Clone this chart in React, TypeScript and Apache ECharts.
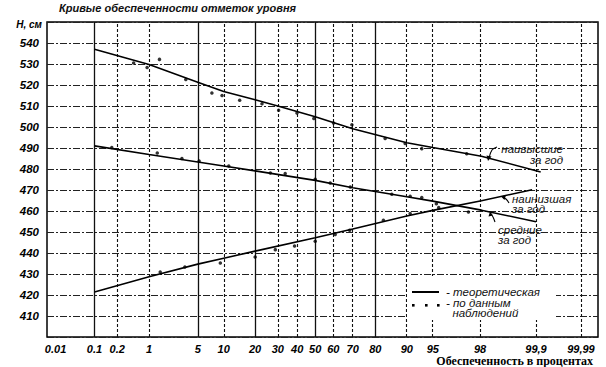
import React, { useEffect, useRef } from 'react';
import * as echarts from 'echarts';

// ---- axis ticks (probability %, positioned where the source drew them) ----
const xTickLabels = ['0.01', '0.1', '0.2', '1', '5', '10', '20', '30', '40', '50', '60', '70', '80', '90', '95', '98', '99,9', '99,99'];
const xTickAt = [0.01, 0.1, 0.278, 1, 5, 10, 20, 30, 40, 50, 60, 70, 80, 90, 95, 98.95, 99.9, 99.99];
const xGridSolid = [true, true, false, false, true, false, true, false, false, true, false, false, true, false, false, false, false, false];

// ---- theoretical curves (probability %, level cm) ----
const upperP = [0.1, 1, 5, 10, 20, 30, 50, 70, 90, 95, 99, 99.92];
const upperH = [537.0, 529.8, 521.3, 516.9, 513.0, 510.0, 504.9, 499.2, 492.5, 490.2, 486.1, 478.6];
const meanP = [0.1, 1, 5, 10, 20, 50, 70, 90, 95, 99, 99.9];
const meanH = [491.0, 486.9, 483.3, 481.4, 479.1, 474.6, 471.1, 466.8, 464.7, 460.4, 454.9];
const lowerP = [0.1, 1, 5, 10, 20, 50, 70, 90, 95, 99, 99.88];
const lowerH = [421.4, 428.7, 434.7, 437.5, 440.9, 447.3, 451.4, 457.6, 460.3, 464.9, 470.1];

// ---- observed points ----
const upperObsP = [0.55, 0.93, 1.46, 3.5, 7.4, 9.6, 14.5, 22.8, 30.4, 39.9, 49.2, 60.1, 69.6, 83.6, 89.6, 93.2, 98.3];
const upperObsH = [530.5, 528.3, 532.2, 522.6, 516.2, 515.0, 512.7, 511.1, 508.0, 506.7, 504.0, 501.9, 501.1, 494.5, 492.1, 489.7, 487.3];
const meanObsP = [0.22, 1.35, 3.1, 5.2, 11.3, 26.5, 33.7, 50, 58.3, 68.8, 85.8, 90.8, 93.2, 95.5, 98.4];
const meanObsH = [490.2, 487.6, 485.0, 483.8, 481.4, 478.1, 477.8, 475.1, 473.3, 471.4, 468.0, 467.0, 466.4, 463.5, 459.5];
const lowerObsP = [1.5, 3.4, 9.2, 20, 28.8, 38.6, 50, 61, 68.5, 83, 90.8, 95.8];
const lowerObsH = [431.0, 433.3, 435.2, 438.1, 441.6, 443.3, 445.6, 448.8, 450.8, 455.6, 458.8, 461.6];

// normal-probability paper: inverse standard normal CDF (Acklam)
function probit(pct: number): number {
  const p = pct / 100;
  const a = [-3.969683028665376e1, 2.209460984245205e2, -2.759285104469687e2, 1.38357751867269e2, -3.066479806614716e1, 2.506628277459239];
  const b = [-5.447609879822406e1, 1.615858368580409e2, -1.556989798598866e2, 6.680131188771972e1, -1.328068155288572e1];
  const c = [-7.784894002430293e-3, -3.223964580411365e-1, -2.400758277161838, -2.549732539343734, 4.374664141464968, 2.938163982698783];
  const d = [7.784695709041462e-3, 3.224671290700398e-1, 2.445134137142996, 3.754408661907416];
  const plow = 0.02425;
  if (p < plow) {
    const q = Math.sqrt(-2 * Math.log(p));
    return (((((c[0] * q + c[1]) * q + c[2]) * q + c[3]) * q + c[4]) * q + c[5]) / ((((d[0] * q + d[1]) * q + d[2]) * q + d[3]) * q + 1);
  }
  if (p > 1 - plow) {
    const q = Math.sqrt(-2 * Math.log(1 - p));
    return -(((((c[0] * q + c[1]) * q + c[2]) * q + c[3]) * q + c[4]) * q + c[5]) / ((((d[0] * q + d[1]) * q + d[2]) * q + d[3]) * q + 1);
  }
  const q = p - 0.5;
  const r = q * q;
  return ((((((a[0] * r + a[1]) * r + a[2]) * r + a[3]) * r + a[4]) * r + a[5]) * q) / (((((b[0] * r + b[1]) * r + b[2]) * r + b[3]) * r + b[4]) * r + 1);
}

const pair = (ps: number[], hs: number[]) => ps.map((p, i) => [probit(p), hs[i]]);

const X_MIN = -3.755;
const X_MAX = 3.958;
const SANS = '"Liberation Sans", Arial, sans-serif';
const SERIF = '"Liberation Serif", "Times New Roman", serif';

export default function App() {
  const ref = useRef<HTMLDivElement>(null);
  useEffect(() => {
    if (!ref.current) return;
    const chart = echarts.init(ref.current, undefined, { renderer: 'svg' });
    const tickZ = xTickAt.map(probit);
    const lineStyle = { color: '#000', width: 1.6 };
    const dotStyle = { color: '#000' };
    const txt = (x: number, y: number, text: string, extra: any = {}) => ({
      type: 'text', x, y, z: 60,
      style: { text, fill: '#111', font: `italic 11.5px ${SANS}`, lineHeight: 10.5, ...extra },
    });
    const arrow = (pts: number[][], head: number[][]) => [
      { type: 'polyline', z: 60, shape: { points: pts, smooth: 0.4 }, style: { stroke: '#000', lineWidth: 1.1, fill: 'none' } },
      { type: 'polygon', z: 60, shape: { points: head }, style: { fill: '#000' } },
    ];
    chart.setOption({
      animation: false,
      backgroundColor: '#fff',
      grid: { left: 47, right: 8, top: 22, bottom: 30, show: true, borderColor: '#000', borderWidth: 1.5 },
      xAxis: {
        type: 'value', min: X_MIN, max: X_MAX,
        axisLine: { show: false }, axisTick: { show: false }, splitLine: { show: false },
        axisLabel: {
          customValues: tickZ,
          formatter: (v: number) => {
            let best = 0;
            tickZ.forEach((z, i) => { if (Math.abs(z - v) < Math.abs(tickZ[best] - v)) best = i; });
            return best === 0 ? `{f|${xTickLabels[0]}}` : xTickLabels[best];
          },
          fontStyle: 'italic', fontWeight: 'bold', fontSize: 11, fontFamily: SANS, color: '#000', margin: 6,
          rich: { f: { fontStyle: 'italic', fontWeight: 'bold', fontSize: 11, fontFamily: SANS, color: '#000', padding: [0, 0, 0, 12] } },
        },
      },
      yAxis: {
        type: 'value', min: 400, max: 550, interval: 10,
        axisLine: { show: false }, axisTick: { show: false },
        splitLine: { show: true, lineStyle: { color: '#222', width: 1.2, type: [7, 2, 2, 2] } },
        axisLabel: {
          formatter: (v: number) => (v === 550 ? '{h|H, см}' : v === 400 ? '' : String(v)),
          fontStyle: 'italic', fontWeight: 'bold', fontSize: 11.5, fontFamily: SANS, color: '#000', margin: 8,
          rich: { h: { fontStyle: 'italic', fontWeight: 'bold', fontSize: 10, fontFamily: SANS, color: '#000', padding: [4, -3, 0, 0] } },
        },
      },
      series: [
        {
          type: 'line', data: [], z: 1, silent: true,
          markLine: {
            silent: true, symbol: ['none', 'none'], label: { show: false },
            data: tickZ.slice(1).map((z, i) => ({
              xAxis: z,
              lineStyle: { color: '#111', width: xGridSolid[i + 1] ? 1.3 : 1.1, type: xGridSolid[i + 1] ? 'solid' : [3, 2] },
            })),
          },
        },
        { type: 'line', data: pair(upperP, upperH), showSymbol: false, lineStyle, z: 5 },
        { type: 'line', data: pair(meanP, meanH), showSymbol: false, lineStyle, z: 5 },
        { type: 'line', data: pair(lowerP, lowerH), showSymbol: false, lineStyle, z: 5 },
        { type: 'scatter', data: pair(upperObsP, upperObsH), symbol: 'circle', symbolSize: 3.5, itemStyle: dotStyle, z: 6 },
        { type: 'scatter', data: pair(meanObsP, meanObsH), symbol: 'circle', symbolSize: 3.5, itemStyle: dotStyle, z: 6 },
        { type: 'scatter', data: pair(lowerObsP, lowerObsH), symbol: 'circle', symbolSize: 3.5, itemStyle: dotStyle, z: 6 },
      ],
      graphic: [
        { type: 'text', left: 59, top: 2, z: 60, style: { text: 'Кривые обеспеченности отметок уровня', fill: '#111', font: `italic bold 11px ${SANS}` } },
        { type: 'text', x: 593, y: 355, z: 60, style: { text: 'Обеспеченность в процентах', fill: '#000', font: `bold 12px ${SERIF}`, textAlign: 'right' } },
        // legend box
        { type: 'rect', z: 50, shape: { x: 407, y: 276, width: 149, height: 44 }, style: { fill: '#fff' } },
        { type: 'line', z: 60, shape: { x1: 412, y1: 292, x2: 439, y2: 292 }, style: { stroke: '#000', lineWidth: 2 } },
        { type: 'rect', z: 60, shape: { x: 412, y: 304, width: 2.6, height: 2.6 }, style: { fill: '#000' } },
        { type: 'rect', z: 60, shape: { x: 425, y: 304, width: 2.6, height: 2.6 }, style: { fill: '#000' } },
        { type: 'rect', z: 60, shape: { x: 437, y: 304, width: 2.6, height: 2.6 }, style: { fill: '#000' } },
        txt(446, 286.5, '- теоретическая'),
        txt(446, 297.5, '- по данным\n  наблюдений'),
        // curve annotations
        txt(563, 144, 'наивысшие\nза год', { textAlign: 'right' }),
        txt(512, 193.5, 'наинизшая\nза год'),
        txt(498, 224.5, 'средние\nза год'),
        ...arrow([[497, 147], [492, 150], [489, 158]], [[488, 161], [486.5, 155.5], [491.5, 156.5]]),
        ...arrow([[509, 203], [506, 199], [503, 197.5]], [[501, 196.5], [506, 195], [504.5, 200]]),
        ...arrow([[495, 222], [493, 217], [491, 214]], [[490, 211.5], [488.5, 216.5], [493, 215.5]]),
      ],
    });
    return () => chart.dispose();
  }, []);
  return <div ref={ref} style={{ position: 'fixed', left: 0, top: 0, width: 606, height: 367, background: '#fff' }} />;
}
